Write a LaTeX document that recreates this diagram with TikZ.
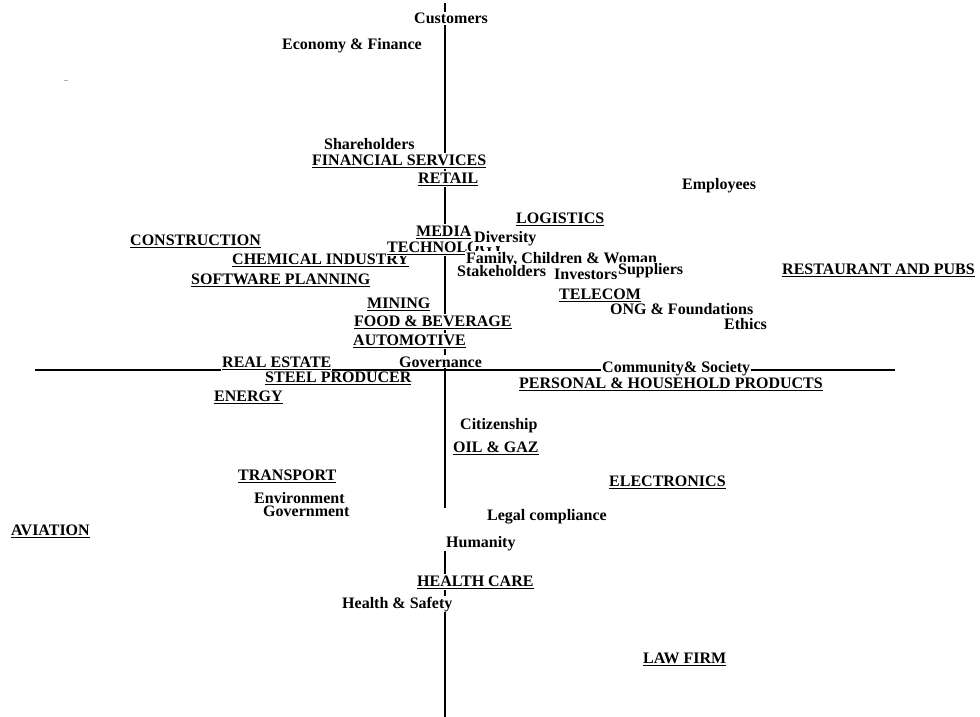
\documentclass[tikz,border=0pt]{standalone}
\usepackage{fontspec}
\setmainfont{Liberation Serif}[BoldFont={Liberation Serif Bold}]
\newcommand{\indu}[1]{\setbox0\hbox{#1}\rlap{\rule[-3pt]{\wd0}{1.3pt}}\box0}
\tikzset{
  lbl/.style={anchor=base west, fill=white, inner sep=1pt, font=\bfseries\fontsize{16}{18}\selectfont},
  lblnf/.style={lbl, fill=none},
  axis/.style={draw=black, line width=1.1pt}
}
\begin{document}
\begin{tikzpicture}[x=1pt,y=-1pt]
\useasboundingbox (0,0) rectangle (980,717);
% axes
\coordinate (vtop) at (445,3);
\coordinate (vmid) at (445,508);
\coordinate (vmid2) at (445,551);
\coordinate (vbot) at (445,717);
\coordinate (hl) at (35,370);
\coordinate (hr) at (895,370);
\draw[axis] (vtop) -- (vmid);
\draw[axis] (vmid2) -- (vbot);
\draw[axis] (hl) -- (hr);
\draw[gray!60, line width=1pt] (64,81) -- (68,81);
% labels
\node[lbl] (customers) at (413,24) {Customers};
\node[lbl] (econ) at (281,49) {Economy \& Finance};
\node[lbl] (share) at (323,149) {Shareholders};
\node[lbl] (finserv) at (311,165) {\indu{FINANCIAL SERVICES}};
\node[lbl] (retail) at (417,183) {\indu{RETAIL}};
\node[lbl] (employees) at (681,189) {Employees};
\node[lbl] (logistics) at (515,223) {\indu{LOGISTICS}};
\node[lbl] (construction) at (129,245) {\indu{CONSTRUCTION}};
\node[lbl] (chemical) at (231,264) {\indu{CHEMICAL INDUSTRY}};
\node[lbl] (media) at (415,236) {\indu{MEDIA}};
\node[lbl] (technology) at (386,252) {\indu{TECHNOLOGY}};
\node[lbl] (diversity) at (473,242) {Diversity};
\node[lbl] (family) at (465,263) {Family, Children \& Woman};
\node[lbl] (stakeholders) at (456,276) {Stakeholders};
\node[lbl] (investors) at (553,279) {Investors};
\node[lbl] (suppliers) at (617,274) {Suppliers};
\node[lbl] (restaurant) at (781,274) {\indu{RESTAURANT AND PUBS}};
\node[lbl] (software) at (190,284) {\indu{SOFTWARE PLANNING}};
\node[lbl] (telecom) at (558,299) {\indu{TELECOM}};
\node[lbl] (mining) at (366,308) {\indu{MINING}};
\node[lbl] (ong) at (609,314) {ONG \& Foundations};
\node[lbl] (food) at (353,326) {\indu{FOOD \& BEVERAGE}};
\node[lbl] (ethics) at (723,329) {Ethics};
\node[lbl] (automotive) at (352,345) {\indu{AUTOMOTIVE}};
\node[lbl] (realestate) at (221,367) {\indu{REAL ESTATE}};
\node[lbl] (governance) at (398,367) {Governance};
\node[lbl] (community) at (601,372) {Community\& Society};
\node[lblnf] (steel) at (264,382) {\indu{STEEL PRODUCER}};
\node[lbl] (personal) at (518,388) {\indu{PERSONAL \& HOUSEHOLD PRODUCTS}};
\node[lbl] (energy) at (213,401) {\indu{ENERGY}};
\node[lbl] (citizenship) at (459,429) {Citizenship};
\node[lbl] (oil) at (452,452) {\indu{OIL \& GAZ}};
\node[lbl] (transport) at (237,480) {\indu{TRANSPORT}};
\node[lbl] (electronics) at (608,486) {\indu{ELECTRONICS}};
\node[lbl] (environment) at (253,503) {Environment};
\node[lbl] (government) at (262,516) {Government};
\node[lbl] (legal) at (486,520) {Legal compliance};
\node[lbl] (aviation) at (10,535) {\indu{AVIATION}};
\node[lbl] (humanity) at (445,547) {Humanity};
\node[lbl] (health) at (416,586) {\indu{HEALTH CARE}};
\node[lbl] (safety) at (341,608) {Health \& Safety};
\node[lbl] (law) at (642,663) {\indu{LAW FIRM}};
\end{tikzpicture}
\end{document}
